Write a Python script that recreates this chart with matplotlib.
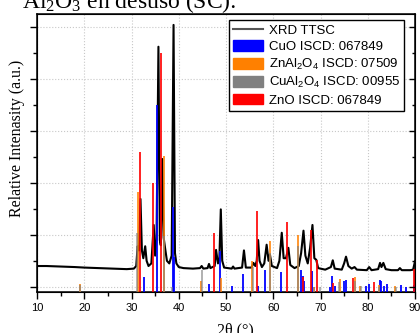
import matplotlib
matplotlib.use("Agg")
import matplotlib.pyplot as plt
from matplotlib.patches import Patch
from matplotlib.lines import Line2D

# XRD pattern (2theta, relative intensity)
two_theta = [10.0, 12.0, 15.0, 18.0, 20.0, 23.0, 26.0, 29.0, 30.5, 31.0, 31.3, 31.6, 31.9, 32.2, 32.5,
             32.9, 33.2, 33.6, 34.2, 34.7, 35.0, 35.3, 35.7, 36.0, 36.2, 36.5, 36.8, 37.1, 37.5, 38.0,
             38.5, 38.9, 39.2, 39.5, 40.0, 41.0, 43.0, 44.5, 44.85, 45.2, 46.1, 46.4, 46.7, 47.6, 47.9,
             48.3, 48.6, 48.9, 49.2, 49.6, 51.2, 51.5, 51.8, 53.4, 53.8, 54.2, 55.4, 55.8, 56.2, 56.5,
             56.8, 57.1, 57.6, 58.1, 58.6, 59.0, 59.3, 59.7, 60.8, 61.3, 61.8, 62.2, 62.7, 63.2, 63.6,
             64.5, 65.4, 65.9, 66.4, 66.8, 67.3, 67.8, 68.3, 68.7, 69.1, 69.5, 71.0, 72.2, 72.6, 73.0,
             74.5, 75.0, 75.4, 75.9, 76.6, 77.2, 77.7, 79.8, 80.3, 80.8, 82.2, 82.6, 82.9, 83.3, 83.8,
             85.0, 86.4, 86.8, 87.2, 89.0, 89.6, 90.0]
intensity = [0.40, 0.40, 0.39, 0.38, 0.37, 0.36, 0.35, 0.34, 0.35, 0.40, 0.78, 0.70, 1.69, 0.70, 0.55,
             0.78, 0.50, 0.40, 0.45, 1.19, 0.60, 0.90, 4.62, 0.90, 0.80, 2.46, 0.95, 0.75, 0.50, 0.45,
             0.60, 5.04, 0.65, 0.45, 0.38, 0.36, 0.35, 0.36, 0.40, 0.35, 0.36, 0.44, 0.36, 0.40, 0.71,
             0.45, 0.55, 1.49, 0.50, 0.37, 0.35, 0.39, 0.35, 0.37, 0.70, 0.37, 0.37, 0.46, 0.40, 0.50,
             0.90, 0.50, 0.38, 0.45, 0.81, 0.50, 0.62, 0.40, 0.36, 0.50, 1.04, 0.55, 0.55, 0.75, 0.42,
             0.36, 0.40, 0.65, 1.08, 0.60, 0.45, 0.75, 1.19, 0.55, 0.52, 0.36, 0.33, 0.38, 0.51, 0.35,
             0.33, 0.45, 0.58, 0.40, 0.35, 0.38, 0.33, 0.32, 0.38, 0.32, 0.34, 0.46, 0.38, 0.46, 0.34,
             0.32, 0.32, 0.36, 0.32, 0.32, 0.33, 0.49]

# reference patterns
cuo_pos = [32.6, 35.5, 38.7, 39.0, 46.3, 48.8, 51.3, 53.5, 56.8, 58.3, 61.6, 65.9, 66.3, 66.5, 68.1,
           72.0, 72.4, 73.0, 75.0, 75.3, 79.7, 80.3, 82.6, 82.9, 83.4, 84.0, 87.0, 88.1, 89.8]
cuo_h = [0.19, 3.50, 1.54, 0.58, 0.05, 0.68, 0.02, 0.25, 0.02, 0.33, 0.29, 0.33, 0.20, 0.12, 0.30,
         0.00, 0.21, 0.02, 0.12, 0.13, 0.02, 0.05, 0.13, 0.12, 0.02, 0.06, 0.04, 0.00, 0.04]

znal_pos = [19.0, 31.3, 36.9, 44.8, 49.0, 55.6, 59.3, 65.2, 68.7, 74.1, 77.4, 78.4, 82.4, 85.8]
znal_h = [0.05, 1.83, 2.51, 0.12, 0.16, 0.49, 0.89, 0.99, 0.00, 0.15, 0.19, 0.02, 0.03, 0.02]

cual_pos = [19.1, 31.2, 36.8, 38.5, 44.9, 55.7, 59.4, 65.3, 68.6, 69.8, 74.0, 77.3, 78.5, 82.3, 86.0]
cual_h = [0.03, 1.03, 0.97, 0.00, 0.33, 0.38, 0.65, 0.78, 0.00, 0.00, 0.10, 0.12, 0.02, 0.00, 0.00]

zno_pos = [31.8, 34.5, 36.3, 47.5, 56.6, 63.0, 66.4, 67.9, 69.2, 72.6, 76.9, 81.4, 89.7]
zno_h = [2.60, 2.00, 4.50, 1.04, 1.45, 1.24, 0.19, 1.10, 0.52, 0.07, 0.16, 0.10, 0.34]

ymin = -0.1
ymax = 5.25

fig = plt.figure(figsize=(4.2, 3.33), dpi=100)
ax = fig.add_axes([37/420, 41/333, 378/420, 278/333])

ax.plot(two_theta, intensity, color="black", lw=1.5, zorder=2)

def sticks(pos, h, color, alpha):
    ax.bar(pos, [v - ymin for v in h], bottom=ymin, width=0.42, color=color, alpha=alpha,
           linewidth=0, zorder=3)

sticks(cuo_pos, cuo_h, "#0000ff", 0.9)
sticks(znal_pos, znal_h, "#ff8000", 0.8)
sticks(cual_pos, cual_h, "#808080", 0.6)
sticks(zno_pos, zno_h, "#ff0000", 0.85)

ax.set_xlim(10, 90)
ax.set_ylim(ymin, ymax)
ax.set_xticks(range(10, 91, 10))
ax.set_xticks(range(15, 90, 10), minor=True)
ax.set_yticks([0, 1, 2, 3, 4, 5])
ax.set_yticks([0.5, 1.5, 2.5, 3.5, 4.5], minor=True)
ax.set_yticklabels([])
ax.grid(True, which="major", color="#c8c8c8", linestyle=":", linewidth=0.8)
ax.tick_params(which="major", direction="out", length=5, width=1, pad=3, labelsize=8)
ax.tick_params(which="minor", direction="out", length=3, width=1)
for lab in ax.get_xticklabels():
    lab.set_family("Liberation Sans")
for s in ax.spines.values():
    s.set_linewidth(1.1)

ax2 = ax.twinx()
ax2.set_ylim(ymin, ymax)
ax2.set_yticks([0, 1, 2, 3, 4, 5])
ax2.set_yticks([0.5, 1.5, 2.5, 3.5, 4.5], minor=True)
ax2.set_yticklabels([])
ax2.tick_params(which="major", direction="in", length=4, width=1)
ax2.tick_params(which="minor", direction="in", length=2.5, width=1)

handles = [Line2D([0], [0], color="#555555", lw=1.5),
           Patch(color="#0000ff"), Patch(color="#ff8000"),
           Patch(color="#808080"), Patch(color="#ff0000")]
labels = ["XRD TTSC", "CuO ISCD: 067849",
          "ZnAl$\\mathregular{_2}$O$\\mathregular{_4}$ ISCD: 07509",
          "CuAl$\\mathregular{_2}$O$\\mathregular{_4}$ ISCD: 00955",
          "ZnO ISCD: 067849"]
leg = ax2.legend(handles, labels, loc="upper right", bbox_to_anchor=(0.971, 0.978),
                 borderaxespad=0, fancybox=False, framealpha=1, edgecolor="black",
                 prop={"family": "Liberation Sans", "size": 9.5},
                 handlelength=2.3, handleheight=0.9, handletextpad=0.4,
                 labelspacing=0.25, borderpad=0.3)
leg.get_frame().set_linewidth(1.0)

fig.text(22/420, 1 - 8/333, "Al$\\mathregular{_2}$O$\\mathregular{_3}$ en desuso (SC):",
         family="Liberation Serif", fontsize=17, ha="left", va="baseline")
fig.text(17/420, 1 - 138/333, "Relative Intenasity (a.u.)", family="Liberation Serif",
         fontsize=11.5, rotation=90, ha="center", va="center")
fig.text(235/420, -0.003, "2θ (°)", family="Liberation Serif", fontsize=11.5,
         ha="center", va="baseline")

fig.savefig("out.png", dpi=100)
